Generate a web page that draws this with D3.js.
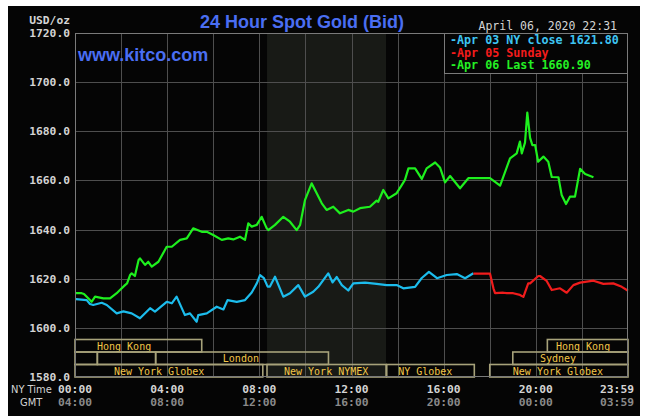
<!DOCTYPE html>
<html><head><meta charset="utf-8">
<script src="https://cdn.jsdelivr.net/npm/d3@7"></script>
<style>html,body{margin:0;padding:0;background:#fff;}svg{display:block;}</style>
</head><body>
<svg id="c" width="648" height="416"></svg>
<script>
// ---- data (NY time in hours, price USD/oz) ----
const apr03 = [[0.04,1611.7],[0.51,1611.3],[0.65,1609.7],[0.79,1609.3],[1.16,1610.2],[1.38,1609.3],[1.81,1605.9],[2.10,1606.7],[2.46,1605.9],[2.82,1603.9],[3.26,1608.0],[3.47,1606.6],[3.98,1610.6],[4.20,1610.0],[4.41,1612.7],[4.77,1605.2],[4.99,1605.9],[5.28,1602.5],[5.35,1605.2],[5.72,1605.9],[6.15,1608.6],[6.44,1607.5],[6.62,1611.3],[7.02,1610.6],[7.38,1611.3],[7.67,1614.4],[7.90,1618.3],[8.03,1621.5],[8.20,1620.2],[8.36,1616.8],[8.46,1616.8],[8.68,1620.8],[9.04,1612.7],[9.33,1614.1],[9.69,1617.4],[9.98,1612.7],[10.34,1614.7],[10.56,1616.7],[10.99,1622.2],[11.18,1618.5],[11.36,1620.7],[11.58,1617.4],[11.86,1615.2],[12.08,1618.1],[12.59,1618.4],[13.09,1617.9],[13.53,1617.4],[13.96,1617.4],[14.25,1616.1],[14.76,1616.7],[15.05,1620.3],[15.36,1622.8],[15.71,1620.2],[16.13,1621.5],[16.57,1621.9],[16.93,1620.2],[17.29,1622.2]];
const apr05 = [[17.29,1622.1],[18.01,1622.1],[18.16,1616.1],[18.23,1614.1],[18.59,1614.3],[18.74,1614.1],[19.02,1614.1],[19.31,1613.4],[19.46,1612.6],[19.67,1618.1],[19.75,1618.1],[20.11,1621.1],[20.18,1621.1],[20.47,1619.1],[20.69,1615.4],[21.05,1616.1],[21.34,1614.3],[21.63,1617.4],[21.92,1618.4],[22.50,1619.2],[22.93,1617.9],[23.36,1618.1],[23.73,1616.7],[24.0,1615.1]];
const apr06 = [[0.04,1614.1],[0.29,1614.1],[0.39,1613.8],[0.65,1611.3],[0.72,1610.6],[0.87,1612.7],[1.23,1612.0],[1.52,1612.0],[1.81,1614.1],[1.95,1615.4],[2.17,1617.4],[2.26,1618.1],[2.39,1621.5],[2.46,1622.2],[2.60,1621.1],[2.76,1627.6],[2.82,1628.3],[3.04,1625.6],[3.18,1626.9],[3.33,1624.9],[3.62,1626.9],[3.98,1633.0],[4.20,1633.0],[4.56,1635.8],[4.85,1636.4],[5.13,1640.5],[5.50,1639.1],[5.72,1639.1],[6.00,1637.8],[6.37,1635.8],[6.65,1636.4],[6.87,1636.0],[7.16,1637.1],[7.38,1635.8],[7.52,1642.5],[7.67,1641.2],[7.89,1641.9],[8.10,1645.2],[8.32,1640.5],[8.39,1639.8],[8.68,1641.9],[9.04,1645.2],[9.33,1643.2],[9.62,1639.8],[9.77,1641.9],[9.98,1652.0],[10.27,1658.8],[10.49,1654.8],[10.71,1650.7],[10.92,1648.0],[11.21,1649.3],[11.50,1646.6],[11.86,1648.0],[12.08,1647.3],[12.37,1648.7],[12.80,1649.3],[13.09,1651.8],[13.16,1651.3],[13.38,1656.1],[13.60,1652.7],[13.96,1654.8],[14.18,1658.1],[14.32,1660.2],[14.47,1664.9],[14.76,1664.9],[15.05,1660.6],[15.26,1664.9],[15.63,1667.3],[15.84,1665.3],[16.06,1659.2],[16.28,1661.8],[16.71,1656.8],[17.07,1660.9],[18.01,1660.9],[18.45,1657.9],[18.88,1669.0],[19.17,1671.0],[19.31,1675.8],[19.39,1671.0],[19.53,1675.4],[19.63,1687.6],[19.75,1677.3],[19.85,1674.4],[19.97,1674.4],[20.10,1667.6],[20.33,1669.7],[20.54,1667.6],[20.69,1661.4],[20.98,1661.3],[21.12,1654.1],[21.31,1650.4],[21.48,1653.4],[21.70,1653.4],[21.92,1664.7],[22.14,1662.6],[22.50,1661.3]];

const legendLabels = ["-Apr 03 NY close 1621.80", "-Apr 05 Sunday", "-Apr 06 Last 1660.90"];
const yTicks = [1580, 1600, 1620, 1640, 1660, 1680, 1700, 1720];
const xTicks = [0, 4, 8, 12, 16, 20, 23.983];
const nyLabels = ["00:00", "04:00", "08:00", "12:00", "16:00", "20:00", "23:59"];
const gmtLabels = ["04:00", "08:00", "12:00", "16:00", "20:00", "00:00", "03:59"];
const nymexSpan = [8.333, 13.5];
// market sessions: row (0 top,1 middle,2 bottom), start, end, label, label centre (hours)
const sessRow = [0, 0, 1, 1, 1, 1, 2, 2, 2, 2];
const sessStart = [0, 20.5, 0, 0.97, 3.5, 19.0, 0, 8.333, 13.53, 18.0];
const sessEnd = [5.5, 24, 0.97, 3.5, 11.0, 24, 8.15, 13.5, 17.33, 24];
const sessLabel = ["Hong Kong", "Hong Kong", "", "", "London", "Sydney", "New York Globex", "New York NYMEX", "NY Globex", "New York Globex"];
const sessLabelAt = [2.13, 22.05, 0, 0, 7.2, 20.96, 3.65, 10.9, 15.2, 20.96];

// ---- drawing ----
const svg = d3.select("#c");
const L = 75, R = 628, T = 33, B = 377;
const x = d3.scaleLinear().domain([0, 24]).range([L, R]);
const y = d3.scaleLinear().domain([1580, 1720]).range([B, T]);
const mono = "'DejaVu Sans Mono', 'Liberation Mono', monospace";

svg.append("rect").attr("x", 8).attr("y", 6).attr("width", 632).attr("height", 410).attr("fill", "#050505");

// NYMEX shading
svg.append("rect").attr("x", x(nymexSpan[0])).attr("y", T).attr("width", x(nymexSpan[1]) - x(nymexSpan[0])).attr("height", B - T).attr("fill", "#181a16");

// grid
const g = svg.append("g").attr("stroke", "#4e4e4e").attr("stroke-width", 1).attr("shape-rendering", "crispEdges");
g.selectAll("line.v").data(d3.range(2, 24, 2)).join("line").attr("class", "v")
  .attr("x1", d => Math.round(x(d)) + 0.5).attr("x2", d => Math.round(x(d)) + 0.5).attr("y1", T).attr("y2", B);
g.selectAll("line.h").data(yTicks.slice(1, -1)).join("line").attr("class", "h")
  .attr("y1", d => Math.round(y(d)) + 0.5).attr("y2", d => Math.round(y(d)) + 0.5).attr("x1", L).attr("x2", R);

// series
const line = d3.line().x(d => x(d[0])).y(d => y(d[1]));
const series = [[apr03, "#1cbcec"], [apr05, "#f01c1c"], [apr06, "#1ef01e"]];
series.forEach(([data, col]) => {
  svg.append("path").datum(data).attr("d", line).attr("fill", "none").attr("stroke", col).attr("stroke-width", 2.2).attr("stroke-linejoin", "round");
});

// market session bands
const rowTop = [339.5, 352, 364.5], rowH = 12.5;
const bands = svg.append("g");
sessRow.forEach((r, i) => {
  bands.append("rect").attr("x", x(sessStart[i])).attr("y", rowTop[r]).attr("width", x(sessEnd[i]) - x(sessStart[i])).attr("height", rowH)
    .attr("fill", "none").attr("stroke", "#a7a27a").attr("stroke-width", 1.6);
  if (sessLabel[i]) {
    bands.append("text").attr("x", x(sessLabelAt[i])).attr("y", rowTop[r] + rowH / 2 + 0.5).attr("text-anchor", "middle")
      .attr("dominant-baseline", "central").attr("font-family", mono).attr("font-size", 10).attr("fill", "#f2c648").text(sessLabel[i]);
  }
});

// border
svg.append("rect").attr("x", L + 0.5).attr("y", T + 0.5).attr("width", R - L - 1).attr("height", B - T - 1).attr("fill", "none").attr("stroke", "#7a7a7a").attr("stroke-width", 1);

// legend
const lg = svg.append("g");
lg.append("rect").attr("x", 444.5).attr("y", 33.5).attr("width", 183).attr("height", 40).attr("fill", "#050505").attr("stroke", "#7a7a7a");
const legCols = ["#3ec4f2", "#f41c1c", "#24f024"];
legendLabels.forEach((t, i) => {
  lg.append("text").attr("x", 450).attr("y", 40 + i * 12.6).attr("dominant-baseline", "central").attr("font-family", mono)
    .attr("font-weight", "bold").attr("font-size", 11.7).attr("fill", legCols[i]).text(t);
});

// y axis labels
svg.selectAll("text.yl").data(yTicks).join("text").attr("class", "yl").attr("x", 70).attr("y", d => y(d) + 0.5)
  .attr("text-anchor", "end").attr("dominant-baseline", "central").attr("font-family", mono).attr("font-weight", "bold")
  .attr("font-size", 11.3).attr("fill", "#d4d4d4").text(d => d.toFixed(1));
svg.append("text").attr("x", 70).attr("y", 20).attr("text-anchor", "end").attr("dominant-baseline", "central").attr("font-family", mono)
  .attr("font-weight", "bold").attr("font-size", 11.3).attr("fill", "#d4d4d4").text("USD/oz");

// x axis labels
xTicks.forEach((t, i) => {
  const last = i === xTicks.length - 1;
  svg.append("text").attr("x", last ? 634 : x(t)).attr("y", 389.5).attr("text-anchor", last ? "end" : "middle").attr("dominant-baseline", "central")
    .attr("font-family", mono).attr("font-weight", "bold").attr("font-size", 11.3).attr("fill", "#d4d4d4").text(nyLabels[i]);
  svg.append("text").attr("x", last ? 634 : x(t)).attr("y", 402.5).attr("text-anchor", last ? "end" : "middle").attr("dominant-baseline", "central")
    .attr("font-family", mono).attr("font-weight", "bold").attr("font-size", 11.3).attr("fill", "#8a8a8a").text(gmtLabels[i]);
});
svg.append("text").attr("x", 11).attr("y", 389.5).attr("dominant-baseline", "central").attr("font-family", "'Liberation Sans Narrow', 'DejaVu Sans Condensed', sans-serif")
  .attr("font-size", 11).attr("fill", "#d4d4d4").text("NY Time");
svg.append("text").attr("x", 20).attr("y", 402.5).attr("dominant-baseline", "central").attr("font-family", "'Liberation Sans Narrow', 'DejaVu Sans Condensed', sans-serif")
  .attr("font-size", 11).attr("fill", "#d4d4d4").text("GMT");

// titles
svg.append("text").attr("x", 302).attr("y", 21.5).attr("text-anchor", "middle").attr("dominant-baseline", "central")
  .attr("font-family", "'Liberation Sans', Arial, sans-serif").attr("font-weight", "bold").attr("font-size", 18).attr("fill", "#4a6ef2").text("24 Hour Spot Gold (Bid)");
svg.append("text").attr("x", 617).attr("y", 25.5).attr("text-anchor", "end").attr("dominant-baseline", "central").attr("font-family", mono)
  .attr("font-size", 11.5).attr("fill", "#d4d4d4").text("April 06, 2020 22:31");
svg.append("text").attr("x", 78).attr("y", 55).attr("dominant-baseline", "central")
  .attr("font-family", "'Liberation Sans', Arial, sans-serif").attr("font-weight", "bold").attr("font-size", 18).attr("fill", "#4a6ef2").text("www.kitco.com");
</script>
</body></html>
